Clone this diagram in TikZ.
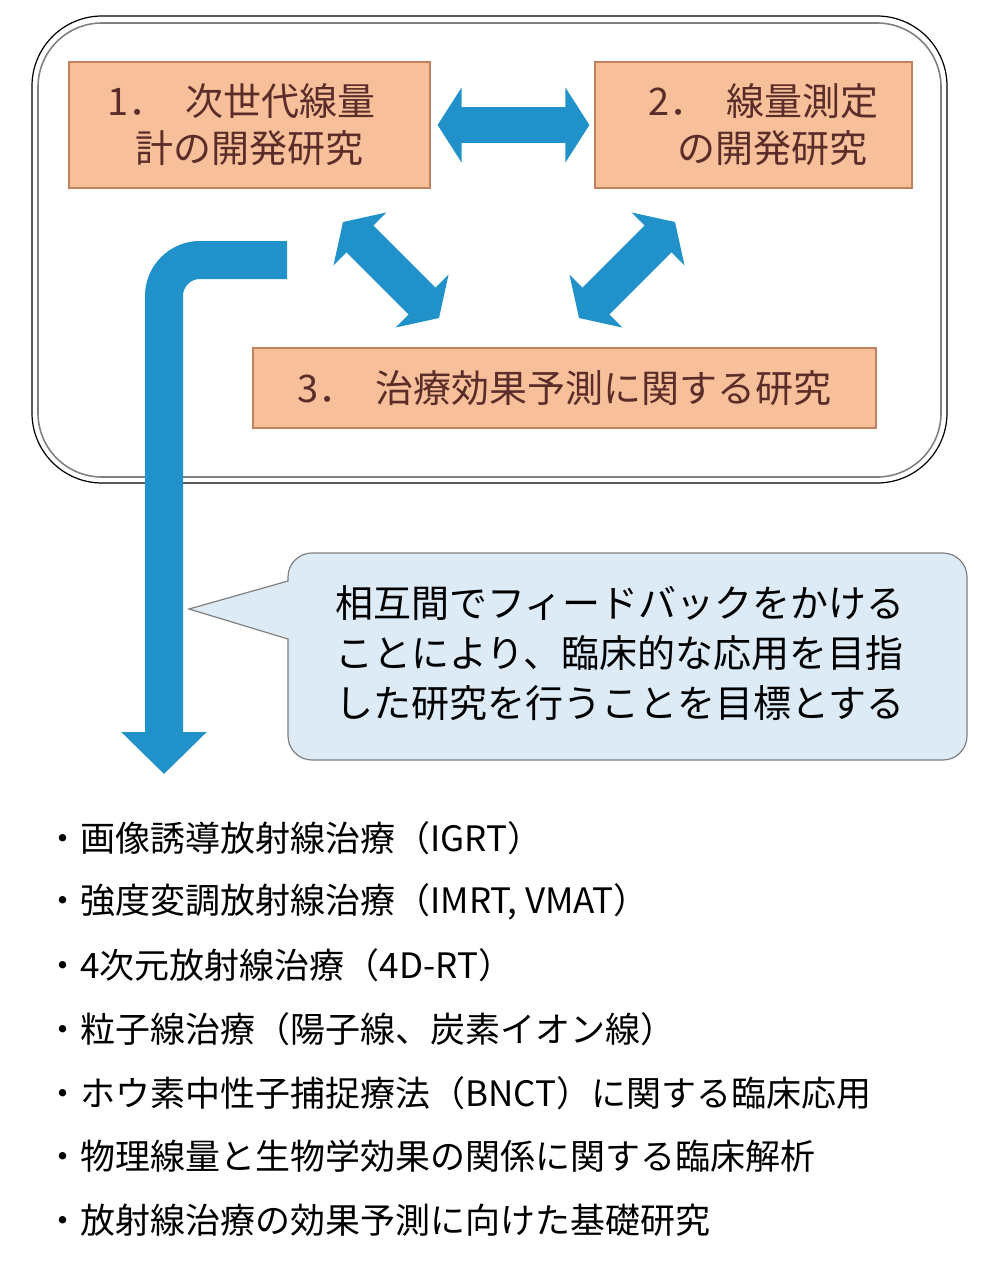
\documentclass[tikz,border=0pt]{standalone}
\usepackage{fontspec}
\setmainfont{Noto Sans CJK JP}
\usetikzlibrary{arrows.meta}
\definecolor{peach}{HTML}{F8C09A}
\definecolor{peachline}{HTML}{C4815F}
\definecolor{brownink}{HTML}{5A2D2A}
\definecolor{arrowblue}{HTML}{2192C9}
\definecolor{callfill}{HTML}{DDEBF7}
\definecolor{callline}{HTML}{7F7F7F}
\begin{document}
\begin{tikzpicture}[x=0.5pt,y=-0.5pt,
  topic/.style={draw=peachline,fill=peach,text=brownink,line width=0.6pt,inner sep=0pt,align=center,font=\fontsize{19pt}{23.5pt}\selectfont},
  fatarrow/.style={draw=arrowblue,line width=18pt,{Triangle[width=37pt,length=12pt]}-{Triangle[width=37pt,length=12pt]}},
  listitem/.style={anchor=west,inner sep=0pt,font=\fontsize{17.5pt}{20pt}\selectfont}]
\useasboundingbox (0,0) rectangle (1000,1265);

% outer frame
\draw[line width=0.6pt,rounded corners=35pt] (32,16) rectangle (947,483);
\draw[gray,line width=0.8pt,rounded corners=32pt] (38,23) rectangle (941,477);

% three topics
\node[topic,minimum width=180.5pt,minimum height=63pt] (b1) at (249.5,125) {1．\hspace{0.5em}次世代線量\hspace*{8pt}\\計の開発研究};
\node[topic,minimum width=158.5pt,minimum height=63pt] (b2) at (753.5,125) {\hspace*{10pt}2．\hspace{0.5em}線量測定\\　の開発研究};
\node[topic,minimum width=311.5pt,minimum height=40pt] (b3) at (564.5,388) {3．\hspace{0.5em}治療効果予測に関する研究};

\draw[fatarrow,shorten <=3.5pt,shorten >=2.5pt] (b1.east) -- (b2.west);

\coordinate (l1) at (343,222);
\coordinate (l3) at (439,318);
\coordinate (r2) at (675,222);
\coordinate (r3) at (579,318);
\draw[fatarrow,line width=19pt] (l1) -- (l3);
\draw[fatarrow,line width=19pt] (r2) -- (r3);

% feedback arrow
\coordinate (fbstart) at (287,260);
\coordinate (fbend) at (164,774);
\draw[draw=arrowblue,line width=19pt,rounded corners=18pt,-{Triangle[width=41.5pt,length=21pt]}]
  (fbstart) -- (fbend |- fbstart) -- (fbend);

% callout
\node[draw=callline,fill=callfill,line width=0.6pt,rounded corners=12pt,minimum width=339.5pt,minimum height=103.5pt] (call) at (627.5,656.5) {};
\coordinate (ctip) at (189,609);
\fill[callfill] (291,581) -- (ctip) -- (291,639) -- cycle;
\draw[callline,line width=0.6pt] (288,581) -- (ctip) -- (288,639);
\node[anchor=west,align=left,inner sep=0pt,font=\fontsize{19pt}{25pt}\selectfont] (calltext) at (335,653)
  {相互間でフィードバックをかける\\ことにより、臨床的な応用を目指\\した研究を行うことを目標とする};

% list
\foreach \t [count=\i] in {{画像誘導放射線治療（IGRT）},{強度変調放射線治療（IMRT, VMAT）},{4次元放射線治療（4D-RT）},{粒子線治療（陽子線、炭素イオン線）},{ホウ素中性子捕捉療法（BNCT）に関する臨床応用},{物理線量と生物学効果の関係に関する臨床解析},{放射線治療の効果予測に向けた基礎研究}}
  \node[listitem] (li\i) at (45,{838+63.7*(\i-1)}) {・\t};
\end{tikzpicture}
\end{document}
